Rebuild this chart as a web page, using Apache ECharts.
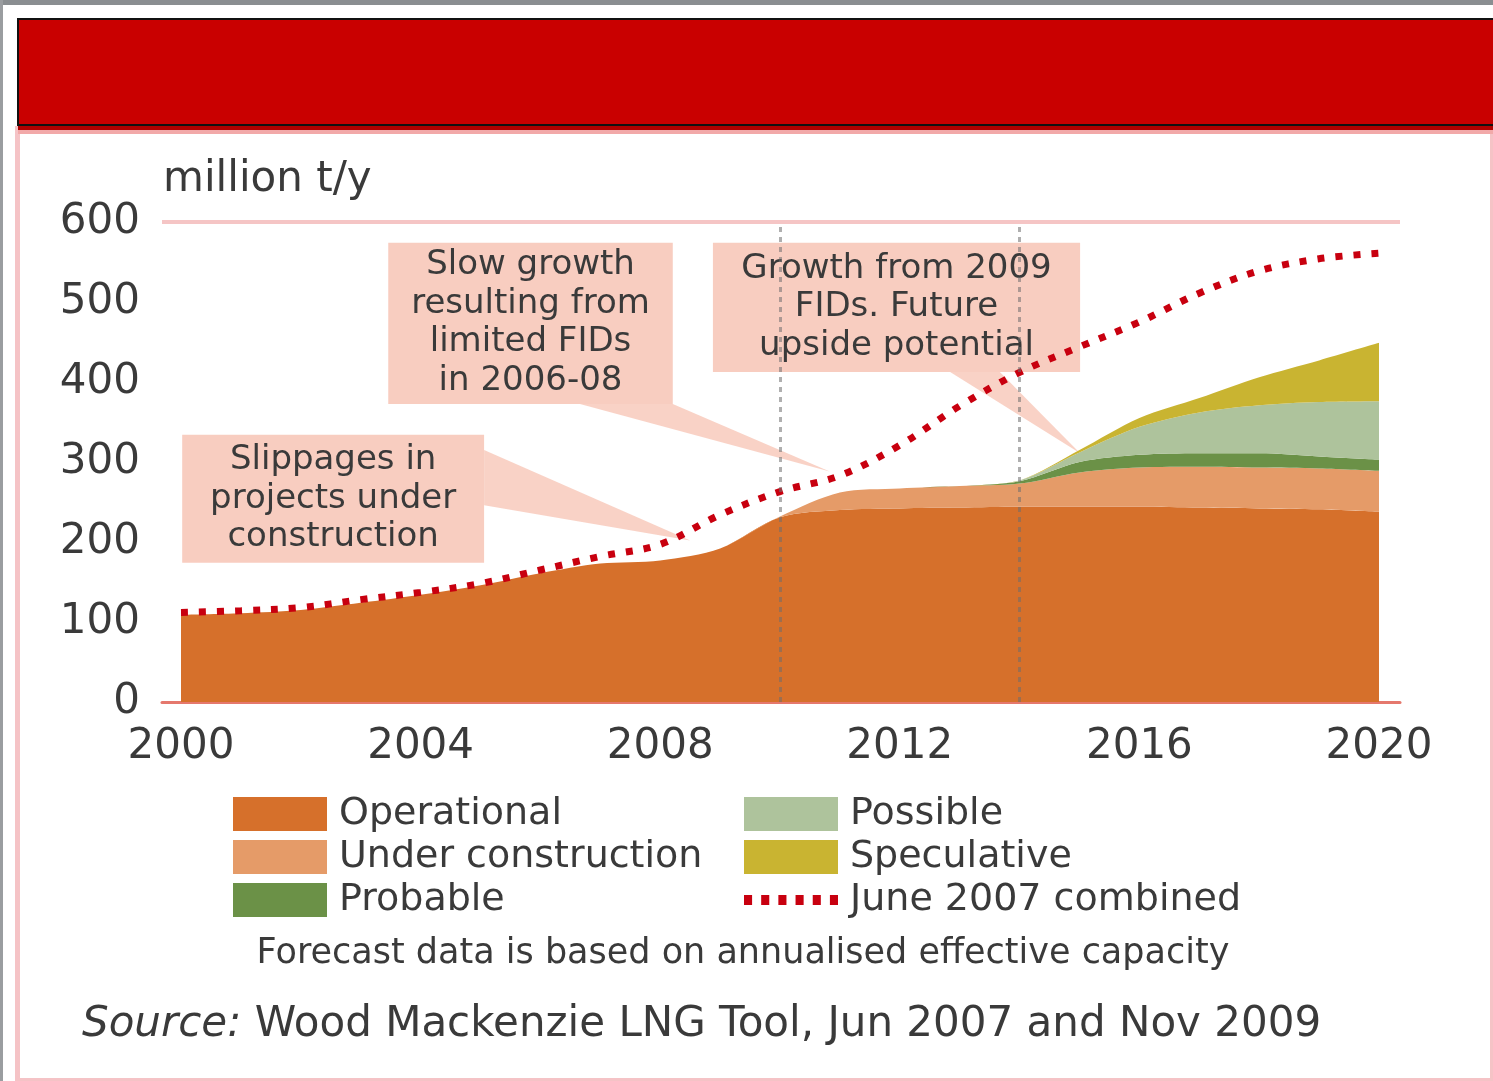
<!DOCTYPE html>
<html>
<head>
<meta charset="utf-8">
<title>LNG liquefaction capacity</title>
<script src="https://cdn.jsdelivr.net/npm/echarts@6/dist/echarts.min.js"></script>
<style>
  html, body { margin: 0; padding: 0; background: #ffffff; }
  #chart { width: 1493px; height: 1081px; }
</style>
</head>
<body>
<div id="chart"></div>
<script>
// ---- data (million t/y) ----
const years = [2000, 2001, 2002, 2003, 2004, 2005, 2006, 2007, 2008, 2009, 2010,
               2011, 2012, 2013, 2014, 2015, 2016, 2017, 2018, 2019, 2020];
const operational       = [109, 111, 115, 124, 134, 146, 161, 173, 177, 192, 231, 240, 242, 243, 244, 244, 244, 243, 242, 241, 238];
const underConstruction = [0, 0, 0, 0, 0, 0, 0, 0, 0, 0, 1, 22, 25, 27, 29, 43, 49, 51, 51, 51, 51];
const probable          = [0, 0, 0, 0, 0, 0, 0, 0, 0, 0, 0, 0, 0, 0, 3, 13, 16, 17, 18, 15, 14];
const possible          = [0, 0, 0, 0, 0, 0, 0, 0, 0, 0, 0, 0, 0, 0, 1, 12, 35, 51, 60, 68, 73];
const speculative       = [0, 0, 0, 0, 0, 0, 0, 0, 0, 0, 0, 0, 0, 0, 0, 3, 11, 18, 35, 52, 73];
const june2007Combined  = [112, 114, 118, 128, 137, 148, 165, 182, 197, 234, 263, 283, 321, 370, 412, 444, 475, 511, 539, 554, 561];

const xTickLabels = [2000, 2004, 2008, 2012, 2016, 2020];
const markerYears = [2010, 2014];
const seriesNames = ['Operational', 'Under construction', 'Probable', 'Possible', 'Speculative', 'June 2007 combined'];

const noteText = 'Forecast data is based on annualised effective capacity';
const sourceText = 'Wood Mackenzie LNG Tool, Jun 2007 and Nov 2009';

// callout boxes, placed in axis units (year, million t/y)
const callouts = [
  { lines: ['Slippages in', 'projects under', 'construction'],
    box: [2000.02, 334, 2005.06, 174], base: [[2005.06, 315], [2005.06, 246]], tip: [2008.5, 202] },
  { lines: ['Slow growth', 'resulting from', 'limited FIDs', 'in 2006-08'],
    box: [2003.46, 574, 2008.21, 372.5], base: [[2006.66, 372.5], [2008.21, 372.5]], tip: [2010.83, 288] },
  { lines: ['Growth from 2009', 'FIDs. Future', 'upside potential'],
    box: [2008.88, 574, 2015.01, 412.5], base: [[2012.84, 412.5], [2013.67, 412.5]], tip: [2015.01, 311] }
];

// ---- styling ----
const FONT = '"DejaVu Sans", "Open Sans", sans-serif';
const TEXT = '#3a3a3a';
const colors = {
  operational: '#d6702b',
  underConstruction: '#e59b68',
  probable: '#6b9147',
  possible: '#aec39c',
  speculative: '#c9b431',
  combined: '#c8000f'
};
const CALLOUT_FILL = '#f8cdc0';

// value first, year second: the value dimension is the one that gets stacked
const pairs = arr => years.map((y, i) => [arr[i], y]);
const ENCODE = { x: 1, y: 0 };

function areaSeries(name, values, color, extra) {
  return Object.assign({
    name: name,
    type: 'line',
    stack: 'capacity',
    data: pairs(values),
    encode: ENCODE,
    color: color,
    smooth: 0.3,
    symbol: 'none',
    lineStyle: { width: 0 },
    areaStyle: { color: color, opacity: 1 },
    silent: true,
    z: 2
  }, extra || {});
}

const chart = echarts.init(document.getElementById('chart'), null, { renderer: 'canvas' });

const dotsIcon = 'path://M0,0h8v10h-8z M17,0h8v10h-8z M34,0h8v10h-8z M51,0h8v10h-8z M68,0h8v10h-8z M85,0h8v10h-8z';

const legendCommon = {
  orient: 'vertical',
  icon: 'rect',
  itemWidth: 94,
  itemHeight: 34,
  itemGap: 5,
  padding: 0,
  selectedMode: false,
  itemStyle: { borderWidth: 0 },
  textStyle: { fontFamily: FONT, fontSize: 38, color: TEXT, lineHeight: 34, padding: [0, 0, 0, 7] }
};

const option = {
  backgroundColor: '#ffffff',
  animation: false,
  grid: { left: 162, right: 93, top: 222, bottom: 379, containLabel: false },
  xAxis: {
    type: 'value',
    min: 2000 - 19 / 59.9,
    max: 2020 + 21 / 59.9,
    axisLine: { show: true, onZero: false, lineStyle: { color: '#e5786d', width: 3 } },
    axisTick: { show: false },
    splitLine: { show: false },
    axisLabel: {
      customValues: xTickLabels,
      formatter: v => String(v),
      fontFamily: FONT, fontSize: 42, color: TEXT, margin: 24
    }
  },
  yAxis: {
    type: 'value',
    min: 0, max: 600, interval: 100,
    axisLine: { show: false },
    axisTick: { show: false },
    splitLine: { show: false },
    axisLabel: { fontFamily: FONT, fontSize: 42, color: TEXT, margin: 22 }
  },
  legend: [
    Object.assign({}, legendCommon, {
      left: 233, top: 795,
      data: [{ name: seriesNames[0] }, { name: seriesNames[1] }, { name: seriesNames[2] }]
    }),
    Object.assign({}, legendCommon, {
      left: 744, top: 795,
      data: [{ name: seriesNames[3] }, { name: seriesNames[4] },
             { name: seriesNames[5], icon: dotsIcon, itemStyle: { color: colors.combined, borderWidth: 0 } }]
    })
  ],
  series: [
    areaSeries(seriesNames[0], operational, colors.operational, {
      markLine: {
        silent: true, symbol: 'none', label: { show: false },
        lineStyle: { color: '#f5c5c5', width: 4, type: 'solid' },
        data: [{ yAxis: 600 }]
      }
    }),
    areaSeries(seriesNames[1], underConstruction, colors.underConstruction),
    areaSeries(seriesNames[2], probable, colors.probable),
    areaSeries(seriesNames[3], possible, colors.possible),
    areaSeries(seriesNames[4], speculative, colors.speculative),
    {
      name: seriesNames[5],
      type: 'line',
      data: pairs(june2007Combined),
      encode: ENCODE,
      color: colors.combined,
      itemStyle: { color: colors.combined },
      smooth: 0.35,
      symbol: 'none',
      silent: true,
      z: 4,
      lineStyle: { color: colors.combined, width: 7, type: [7, 11], cap: 'butt' },
      markLine: {
        silent: true, symbol: 'none', label: { show: false },
        lineStyle: { color: 'rgba(110,110,110,0.55)', width: 3, type: [5, 5] },
        data: markerYears.map(y => ({ xAxis: y }))
      }
    }
  ]
};

chart.setOption(option);

// frame, header band, unit label and footnotes
const frame = [
  { type: 'rect', shape: { x: 0, y: 0, width: 1493, height: 5 }, style: { fill: '#8a8e91' }, silent: true },
  { type: 'rect', shape: { x: 0, y: 0, width: 3, height: 1081 }, style: { fill: '#9a9da0' }, silent: true },
  { type: 'rect', shape: { x: 15, y: 126, width: 5, height: 955 }, style: { fill: '#f5c3c6' }, silent: true },
  { type: 'rect', shape: { x: 1490, y: 132, width: 3, height: 949 }, style: { fill: '#f5c3c6' }, silent: true },
  { type: 'rect', shape: { x: 15, y: 1078, width: 1478, height: 3 }, style: { fill: '#f5c3c6' }, silent: true },
  { type: 'rect', shape: { x: 18, y: 19, width: 1490, height: 106 },
    style: { fill: '#c90000', stroke: '#111111', lineWidth: 2 }, silent: true },
  { type: 'rect', shape: { x: 18, y: 126, width: 1475, height: 4 }, style: { fill: '#b00000' }, silent: true },
  { type: 'rect', shape: { x: 18, y: 130, width: 1475, height: 4 }, style: { fill: '#f2a9a9' }, silent: true },
  { type: 'text', style: { text: 'million t/y', x: 163, y: 180, font: '42px ' + FONT, fill: TEXT,
    align: 'left', verticalAlign: 'middle' }, silent: true },
  { type: 'text', style: { text: noteText, x: 743, y: 954, font: '35px ' + FONT, fill: TEXT,
    align: 'center', verticalAlign: 'middle' }, silent: true },
  { type: 'text', style: {
      text: '{i|Source:} ' + sourceText, x: 82, y: 1025, font: '42px ' + FONT, fill: TEXT,
      align: 'left', verticalAlign: 'middle',
      rich: { i: { fontStyle: 'italic', fontSize: 42, fontFamily: FONT, fill: TEXT } }
    }, silent: true }
];

// callout boxes with their pointers, converted from axis units to pixels
const toPx = p => chart.convertToPixel({ gridIndex: 0 }, p);
const calloutGraphics = [];
callouts.forEach(c => {
  const a = toPx([c.box[0], c.box[1]]);
  const b = toPx([c.box[2], c.box[3]]);
  const b0 = toPx(c.base[0]);
  const b1 = toPx(c.base[1]);
  const t = toPx(c.tip);
  calloutGraphics.push({
    type: 'polygon', silent: true, z: 1,
    shape: { points: [b0, b1, t] },
    style: { fill: CALLOUT_FILL, opacity: 0.9 }
  });
  calloutGraphics.push({
    type: 'rect', silent: true, z: 1,
    shape: { x: a[0], y: a[1], width: b[0] - a[0], height: b[1] - a[1] },
    style: { fill: CALLOUT_FILL }
  });
  calloutGraphics.push({
    type: 'text', silent: true, z: 1,
    style: {
      text: c.lines.join('\n'),
      x: (a[0] + b[0]) / 2, y: (a[1] + b[1]) / 2,
      align: 'center', verticalAlign: 'middle',
      font: '34px ' + FONT, lineHeight: 38.5, fill: TEXT
    }
  });
});

chart.setOption({ graphic: frame.concat(calloutGraphics) });
</script>
</body>
</html>
